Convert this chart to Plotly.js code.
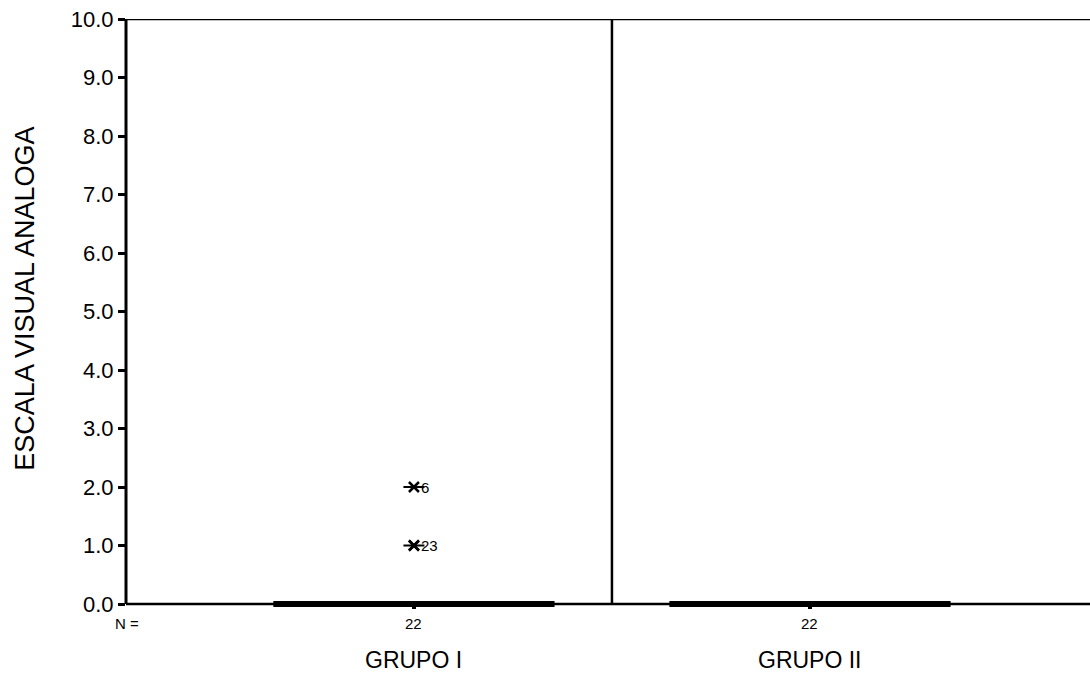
<!DOCTYPE html>
<html>
<head>
<meta charset="utf-8">
<script src="https://cdn.plot.ly/plotly-3.0.1.min.js"></script>
<style>html,body{margin:0;padding:0;background:#fff;}#chart{width:1090px;height:674px;}</style>
</head>
<body>
<div id="chart"></div>
<script>
var categories = ['GRUPO I', 'GRUPO II'];
var groupI = [0,0,0,0,0,0,0,0,0,0,0,0,0,0,0,0,0,0,0,1,1,2];
var groupII = [0,0,0,0,0,0,0,0,0,0,0,0,0,0,0,0,0,0,0,0,0,0];
var counts = ['22', '22'];
var outlierY = [2, 1];
var outlierLabels = ['6', '23'];

var xs = [], ys = [];
groupI.forEach(function(v){ xs.push(categories[0]); ys.push(v); });
groupII.forEach(function(v){ xs.push(categories[1]); ys.push(v); });

var font = 'Liberation Sans, Arial, sans-serif';
var yLow = -0.0855;

var traces = [
  {
    type: 'box', x: xs, y: ys, boxpoints: 'outliers', width: 0.71,
    fillcolor: '#000', line: {color: '#000', width: 6}, whiskerwidth: 0,
    marker: {symbol: 'x-thin-open', size: 10, color: '#000', line: {color: '#000', width: 2.5}},
    hoverinfo: 'skip', showlegend: false
  },
  {
    type: 'scatter', mode: 'markers', x: outlierY.map(function(){return categories[0];}), y: outlierY,
    marker: {symbol: 'line-ew-open', size: 15, color: '#000', line: {color: '#000', width: 2}},
    hoverinfo: 'skip', showlegend: false
  }
];

var annotations = [
  {xref: 'paper', yref: 'y', x: 0, xshift: 1, y: 0, yshift: -19, text: 'N =', showarrow: false,
   font: {family: font, size: 15, color: '#000'}, xanchor: 'center', yanchor: 'middle'},
  {xref: 'paper', yref: 'paper', x: 0, xshift: -101, y: 0.526, text: 'ESCALA VISUAL ANALOGA', textangle: -90,
   showarrow: false, font: {family: font, size: 27, color: '#000'}, xanchor: 'center', yanchor: 'middle'}
];
categories.forEach(function(c, i){
  annotations.push({xref: 'x', yref: 'y', x: c, y: 0, yshift: -19, text: counts[i], showarrow: false,
    font: {family: font, size: 15, color: '#000'}, xanchor: 'center', yanchor: 'middle'});
  annotations.push({xref: 'x', yref: 'y', x: c, y: 0, yshift: -56, text: c, showarrow: false,
    font: {family: font, size: 23, color: '#000'}, xanchor: 'center', yanchor: 'middle'});
});
outlierY.forEach(function(v, i){
  annotations.push({xref: 'x', yref: 'y', x: categories[0], y: v, xshift: 5, text: outlierLabels[i], showarrow: false,
    font: {family: font, size: 15, color: '#000'}, xanchor: 'left', yanchor: 'middle'});
});

var layout = {
  width: 1090, height: 674,
  margin: {l: 126, r: 0, t: 19, b: 65, pad: 0},
  paper_bgcolor: '#fff', plot_bgcolor: '#fff',
  showlegend: false,
  font: {family: font, color: '#000'},
  xaxis: {
    type: 'category', categoryorder: 'array', categoryarray: categories,
    range: [-0.727, 1.707], showgrid: false, zeroline: false,
    showline: false, ticks: 'inside', ticklen: 5, tickwidth: 4, tickcolor: '#000',
    showticklabels: false
  },
  yaxis: {
    range: [yLow, 10], dtick: 1, tick0: 0, tickformat: '.1f',
    showgrid: false, zeroline: false, showline: false,
    ticks: 'outside', ticklen: 7, tickwidth: 3, tickcolor: '#000',
    tickfont: {family: font, size: 22, color: '#000'}
  },
  shapes: [
    {type: 'line', xref: 'paper', yref: 'y', x0: 0, x1: 0, y0: 0, y1: 10, line: {color: '#000', width: 3}},
    {type: 'line', xref: 'paper', yref: 'y', x0: 0, x1: 1, y0: 10, y1: 10, line: {color: '#000', width: 2.5}},
    {type: 'line', xref: 'paper', yref: 'y', x0: 0, x1: 1, y0: 0, y1: 0, line: {color: '#000', width: 2.5}},
    {type: 'line', xref: 'x', yref: 'y', x0: 0.5, x1: 0.5, y0: 0, y1: 10, line: {color: '#000', width: 2.5}}
  ],
  annotations: annotations
};

Plotly.newPlot('chart', traces, layout, {displayModeBar: false, staticPlot: true});
</script>
</body>
</html>
